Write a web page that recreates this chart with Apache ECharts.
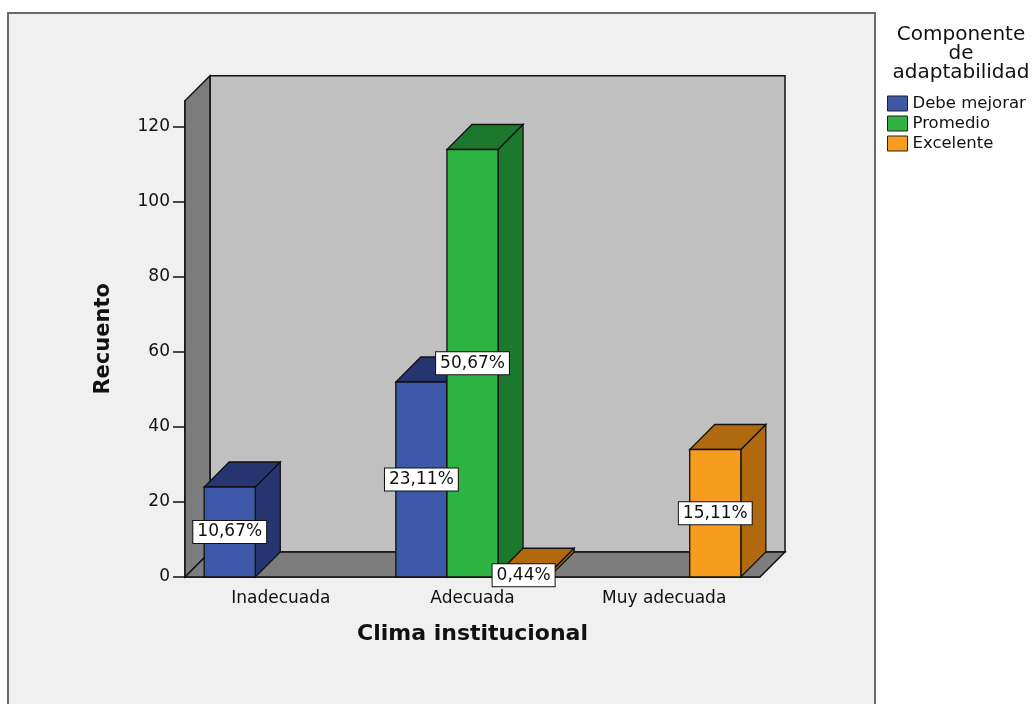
<!DOCTYPE html>
<html>
<head>
<meta charset="utf-8">
<script src="https://cdn.jsdelivr.net/npm/echarts@6/dist/echarts.min.js"></script>
<style>
  html, body { margin: 0; padding: 0; background: #ffffff; }
  #chart { width: 1034px; height: 704px; }
</style>
</head>
<body>
<div id="chart"></div>
<script>
// Clima institucional x Componente de adaptabilidad (recuento)
const categories = ['Inadecuada', 'Adecuada', 'Muy adecuada'];
const seriesNames = ['Debe mejorar', 'Promedio', 'Excelente'];
const debeMejorar = [24, 52, null];
const promedio = [null, 114, null];
const excelente = [null, 1, 34];
const yTicks = [0, 20, 40, 60, 80, 100, 120];

const seriesValues = [debeMejorar, promedio, excelente];
const frontColors = ['#3d58a9', '#2db443', '#f89c1f'];
const darkColors = ['#26346f', '#1b782c', '#b0690f'];
const DEPTH = 25;            // 3D depth offset in px
const FONT = 'DejaVu Sans';

const total = seriesValues.flat().reduce((s, v) => s + (v || 0), 0);
const pct = v => (v / total * 100).toFixed(2).replace('.', ',') + '%';

// slot geometry inside a category band
function slotX(api, ci, k) {
  const c = api.coord([ci, 0]);
  const band = api.size([1, 0])[0];
  const w = band * 0.8 / 3;
  const x0 = c[0] - 1.5 * w + k * w;
  return [x0, x0 + w];
}

// back wall, left wall and floor of the 3D box
function renderWalls(params, api) {
  const cs = params.coordSys;
  const x0 = cs.x, x1 = cs.x + cs.width, yT = cs.y, yB = cs.y + cs.height, d = DEPTH;
  const st = { stroke: '#111', lineWidth: 1.5 };
  return {
    type: 'group',
    children: [
      { type: 'polygon', shape: { points: [[x0 + d, yT - d], [x1 + d, yT - d], [x1 + d, yB - d], [x0 + d, yB - d]] },
        style: Object.assign({ fill: '#c0c0c0' }, st) },
      { type: 'polygon', shape: { points: [[x0, yB], [x0, yT], [x0 + d, yT - d], [x0 + d, yB - d]] },
        style: Object.assign({ fill: '#7d7d7d' }, st) },
      { type: 'polygon', shape: { points: [[x0, yB], [x1, yB], [x1 + d, yB - d], [x0 + d, yB - d]] },
        style: Object.assign({ fill: '#7d7d7d' }, st) }
    ]
  };
}

function makeBarRenderer(k) {
  return function (params, api) {
    const ci = api.value(0), v = api.value(1);
    const [x0, x1] = slotX(api, ci, k);
    const yB = api.coord([ci, 0])[1];
    const yT = api.coord([ci, v])[1];
    const d = DEPTH;
    const st = { stroke: '#111', lineWidth: 1.3 };
    return {
      type: 'group',
      children: [
        { type: 'polygon', shape: { points: [[x1, yB], [x1, yT], [x1 + d, yT - d], [x1 + d, yB - d]] },
          style: Object.assign({ fill: darkColors[k] }, st) },
        { type: 'polygon', shape: { points: [[x0, yT], [x1, yT], [x1 + d, yT - d], [x0 + d, yT - d]] },
          style: Object.assign({ fill: darkColors[k] }, st) },
        { type: 'rect', shape: { x: x0, y: yT, width: x1 - x0, height: yB - yT },
          style: Object.assign({ fill: frontColors[k] }, st) }
      ]
    };
  };
}

function renderLabel(params, api) {
  const ci = api.value(0), v = api.value(1), k = api.value(2);
  const [x0, x1] = slotX(api, ci, k);
  const yB = api.coord([ci, 0])[1];
  const yT = api.coord([ci, v])[1];
  return {
    type: 'text',
    x: (x0 + x1) / 2,
    y: (yB + yT) / 2,
    style: {
      text: pct(v),
      font: '17px "' + FONT + '"',
      fill: '#111',
      align: 'center',
      verticalAlign: 'middle',
      backgroundColor: '#ffffff',
      borderColor: '#111',
      borderWidth: 1,
      padding: [3, 4, 2, 4]
    }
  };
}

const barSeries = seriesNames.map((name, k) => ({
  name: name,
  type: 'custom',
  z: 2,
  itemStyle: { color: frontColors[k] },
  renderItem: makeBarRenderer(k),
  data: seriesValues[k].map((v, ci) => v == null ? null : [ci, v]).filter(d => d)
}));

const labelData = [];
seriesValues.forEach((arr, k) => arr.forEach((v, ci) => { if (v != null) labelData.push([ci, v, k]); }));

const chart = echarts.init(document.getElementById('chart'), null, { renderer: 'canvas' });
chart.setOption({
  backgroundColor: '#ffffff',
  animation: false,
  textStyle: { fontFamily: FONT },
  grid: { left: 185, top: 100.75, width: 575, height: 476.25 },
  xAxis: {
    type: 'category',
    data: categories,
    axisLine: { lineStyle: { color: '#111', width: 1.5 } },
    axisTick: { alignWithLabel: true, length: 10, lineStyle: { color: '#111', width: 1.5 } },
    axisLabel: { color: '#111', fontSize: 17, fontFamily: FONT, margin: 13 },
    name: 'Clima institucional',
    nameLocation: 'middle',
    nameGap: 46,
    nameTextStyle: { color: '#111', fontSize: 22, fontWeight: 'bold', fontFamily: FONT }
  },
  yAxis: {
    type: 'value',
    min: 0,
    max: 127,
    interval: 20,
    splitLine: { show: false },
    axisLine: { show: true, lineStyle: { color: '#111', width: 1.5 } },
    axisTick: { show: true, length: 12, customValues: yTicks, lineStyle: { color: '#111', width: 1.5 } },
    axisLabel: { color: '#111', fontSize: 17, fontFamily: FONT, margin: 15, customValues: yTicks },
    name: 'Recuento',
    nameLocation: 'middle',
    nameGap: 71,
    nameTextStyle: { color: '#111', fontSize: 21, fontWeight: 'bold', fontFamily: FONT }
  },
  legend: {
    orient: 'vertical',
    left: 887,
    top: 95,
    padding: 0,
    itemWidth: 20,
    itemHeight: 15,
    itemGap: 3,
    icon: 'rect',
    textStyle: { color: '#111', fontSize: 16.5, fontFamily: FONT, padding: [0, 0, 0, 0] },
    data: seriesNames.map((n, k) => ({ name: n, itemStyle: { color: frontColors[k], borderColor: '#222', borderWidth: 1 } }))
  },
  graphic: [
    { type: 'rect', z: -10, silent: true,
      shape: { x: 8, y: 13, width: 867, height: 720 },
      style: { fill: '#f0f0f0', stroke: '#6a6a6a', lineWidth: 2 } },
    { type: 'text', z: 10, silent: true, x: 961, y: 25,
      style: { text: 'Componente\nde\nadaptabilidad', align: 'center', font: '20px "' + FONT + '"', lineHeight: 19, fill: '#111' } }
  ],
  series: [
    { name: 'walls', type: 'custom', z: 1, silent: true, renderItem: renderWalls, data: [[0, 0]] }
  ].concat(barSeries).concat([
    { name: 'labels', type: 'custom', z: 3, silent: true, renderItem: renderLabel, data: labelData }
  ])
});
</script>
</body>
</html>
